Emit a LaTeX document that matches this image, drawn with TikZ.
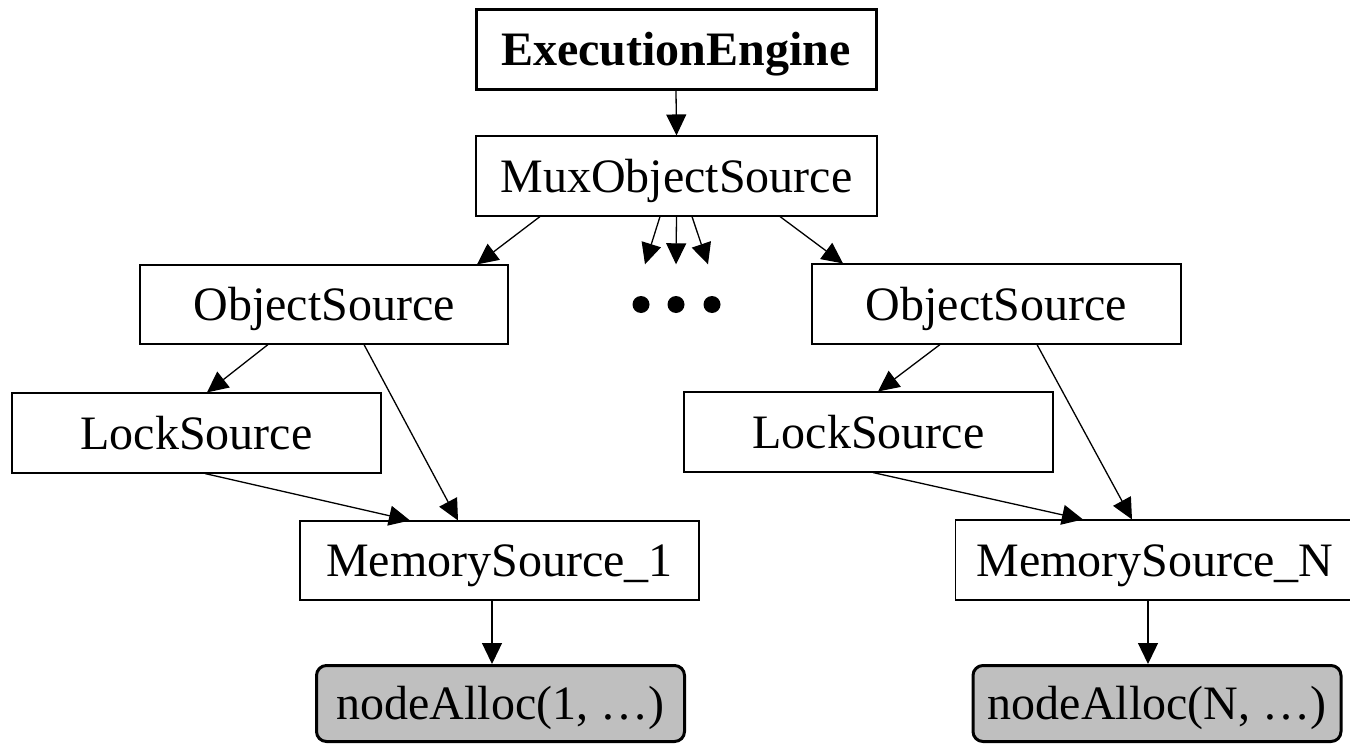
\documentclass[tikz,border=0pt]{standalone}
\usepackage{fontspec}
\setmainfont{Liberation Serif}
\usetikzlibrary{arrows.meta}

\begin{document}
\begin{tikzpicture}[x=1pt,y=-1pt,
  lbl/.style={inner sep=0pt, text height=32pt, text depth=0pt,
    font=\fontsize{48}{58}\selectfont},
  box/.style={lbl, draw, line width=1.1pt},
  topbox/.style={lbl, draw, line width=3pt, font=\fontsize{48}{58}\selectfont\bfseries},
  leaf/.style={lbl, draw, line width=3pt, rounded corners=10pt, fill=black!25},
  conn/.style={-{Triangle[length=21pt,width=20pt]}, line width=1.3pt},
]
\useasboundingbox (0,0) rectangle (1350,744);
\clip (0,0) rectangle (1350,744);

% nodes
\node[topbox, minimum width=400pt, minimum height=80pt] (ee)   at (676,49)    {ExecutionEngine};
\node[box, minimum width=401pt, minimum height=80pt]    (mux)  at (676.5,176) {MuxObjectSource};
\node[box, minimum width=368pt, minimum height=79pt]    (objL) at (324,304.5) {ObjectSource};
\node[lbl, minimum width=120pt, minimum height=80pt]    (dots) at (676,304.5) {};
\node[box, minimum width=369pt, minimum height=80pt]    (objR) at (996.5,304) {ObjectSource};
\node[box, minimum width=369pt, minimum height=80pt]    (lockL) at (196.5,433) {LockSource};
\node[box, minimum width=369pt, minimum height=80pt]    (lockR) at (868.5,432) {LockSource};
\node[box, minimum width=399pt, minimum height=79pt]    (mem1) at (499.5,560.5) {MemorySource\_1};
\node[box, minimum width=399pt, minimum height=80pt]    (memN) at (1155,560)  {MemorySource\_N};
\node[leaf, minimum width=368pt, minimum height=76pt]   (na1)  at (500.5,703.5) {nodeAlloc(1, …)};
\node[leaf, minimum width=368pt, minimum height=76pt]   (naN)  at (1157,703.5) {nodeAlloc(N, …)};

% ellipsis dots
\fill ([xshift=-35pt]dots.center) circle (8.5pt);
\fill (dots.center) circle (8.5pt);
\fill ([xshift=36pt]dots.center) circle (8.5pt);

% connectors
\draw[conn] (ee.south) -- (mux.north);
\draw[conn] ([xshift=-136.5pt]mux.south) -- ([xshift=153pt]objL.north);
\draw[conn] ([xshift=-16.5pt]mux.south) -- ([xshift=-31pt]dots.north);
\draw[conn] (mux.south) -- (dots.north);
\draw[conn] ([xshift=15.5pt]mux.south) -- ([xshift=32pt]dots.north);
\draw[conn] ([xshift=103.5pt]mux.south) -- ([xshift=-153.5pt]objR.north);

\draw[conn] ([xshift=-56pt]objL.south) -- ([xshift=10.5pt]lockL.north);
\draw[conn] ([xshift=40pt]objL.south) -- ([xshift=-41.5pt]mem1.north);
\draw[conn] ([xshift=8.5pt]lockL.south) -- ([xshift=-89.5pt]mem1.north);

\draw[conn] ([xshift=-56.5pt]objR.south) -- ([xshift=9.5pt]lockR.north);
\draw[conn] ([xshift=40.5pt]objR.south) -- ([xshift=-23pt]memN.north);
\draw[conn] ([xshift=4.5pt]lockR.south) -- ([xshift=-72pt]memN.north);

\draw[conn] ([xshift=-7.5pt]mem1.south) -- ([xshift=-8.5pt]na1.north);
\draw[conn] ([xshift=-7pt]memN.south) -- ([xshift=-9pt]naN.north);
\end{tikzpicture}
\end{document}
